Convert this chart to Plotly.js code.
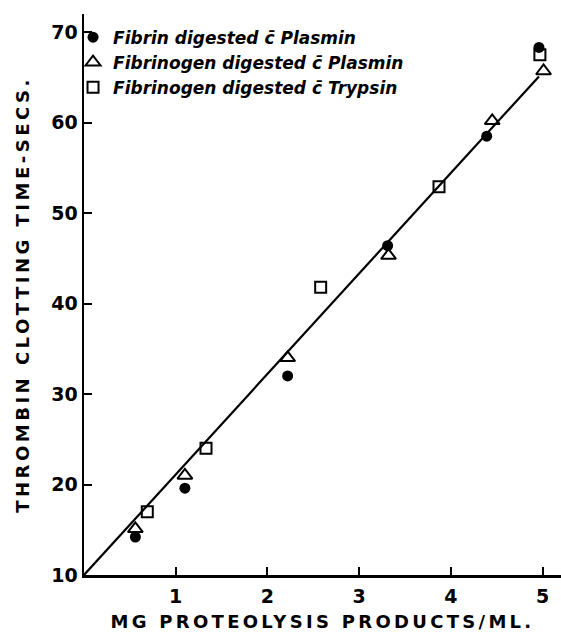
<!DOCTYPE html>
<html>
<head>
<meta charset="utf-8">
<script src="https://cdn.plot.ly/plotly-3.0.1.min.js"></script>
<style>
html, body { margin: 0; padding: 0; background: #fff; }
#chart { width: 561px; height: 632px; }
.xtitle { letter-spacing: 3.3px; }
.ytitle { letter-spacing: 3.5px; }
</style>
</head>
<body>
<div id="chart"></div>
<script>
// Data
const seriesNames = [
  "Fibrin digested c\u0304 Plasmin",
  "Fibrinogen digested c\u0304 Plasmin",
  "Fibrinogen digested c\u0304 Trypsin"
];
const fibrinPlasminX = [0.56, 1.10, 2.22, 3.31, 4.39, 4.96];
const fibrinPlasminY = [14.2, 19.6, 32.0, 46.4, 58.5, 68.3];
const fibrinogenPlasminX = [0.56, 1.10, 2.22, 3.32, 4.45, 5.01];
const fibrinogenPlasminY = [15.1, 21.0, 34.0, 45.3, 60.2, 65.7];
const fibrinogenTrypsinX = [0.69, 1.33, 2.58, 3.87, 4.97];
const fibrinogenTrypsinY = [17.0, 24.0, 41.8, 52.9, 67.5];
const fitLineX = [0, 4.96];
const fitLineY = [10, 65.1];
const xTickVals = [1, 2, 3, 4, 5];
const yTickVals = [10, 20, 30, 40, 50, 60, 70];
const xTitle = "MG PROTEOLYSIS PRODUCTS/ML.";
const yTitle = "THROMBIN CLOTTING TIME-SECS.";

const traces = [
  {
    x: fitLineX, y: fitLineY, mode: "lines", showlegend: false,
    line: { color: "#000", width: 2.2 }, hoverinfo: "skip"
  },
  {
    x: fibrinPlasminX, y: fibrinPlasminY, mode: "markers", name: seriesNames[0],
    marker: { symbol: "circle", size: 11, color: "#000" }
  },
  {
    x: fibrinogenPlasminX, y: fibrinogenPlasminY, mode: "markers", name: seriesNames[1],
    marker: { symbol: "triangle-up-open", size: 13, color: "#000", line: { width: 2, color: "#000" } }
  },
  {
    x: fibrinogenTrypsinX, y: fibrinogenTrypsinY, mode: "markers", name: seriesNames[2],
    marker: { symbol: "square-open", size: 11, color: "#000", line: { width: 2, color: "#000" } }
  }
];

const tickFont = { family: "DejaVu Sans, sans-serif", size: 19, weight: "bold", color: "#000" };
const titleFont = { family: "DejaVu Sans, sans-serif", size: 18, weight: "bold", color: "#000" };

const layout = {
  width: 561, height: 632,
  margin: { l: 84, r: 0, t: 14, b: 57 },
  paper_bgcolor: "#fff", plot_bgcolor: "#fff",
  font: { family: "DejaVu Sans, sans-serif", color: "#000" },
  showlegend: true,
  legend: {
    x: -0.023, y: 0.99, xanchor: "left", yanchor: "top",
    bgcolor: "rgba(0,0,0,0)",
    font: { family: "DejaVu Sans, sans-serif", size: 17, style: "italic", weight: "bold", color: "#000" }
  },
  xaxis: {
    range: [0, 5.2], showgrid: false, zeroline: false,
    showline: true, linecolor: "#000", linewidth: 2.5,
    ticks: "inside", ticklen: 8, tickwidth: 2, tickcolor: "#000",
    tickvals: xTickVals, ticklabelstandoff: 3,
    tickfont: tickFont,
    title: { text: xTitle, standoff: 10, font: titleFont }
  },
  yaxis: {
    range: [10, 72], showgrid: false, zeroline: false,
    showline: true, linecolor: "#000", linewidth: 2.5,
    ticks: "inside", ticklen: 8, tickwidth: 2, tickcolor: "#000",
    tickvals: yTickVals,
    tickfont: tickFont,
    title: { text: yTitle, standoff: 17, font: titleFont }
  }
};

Plotly.newPlot("chart", traces, layout, { displayModeBar: false, staticPlot: true });
</script>
</body>
</html>
